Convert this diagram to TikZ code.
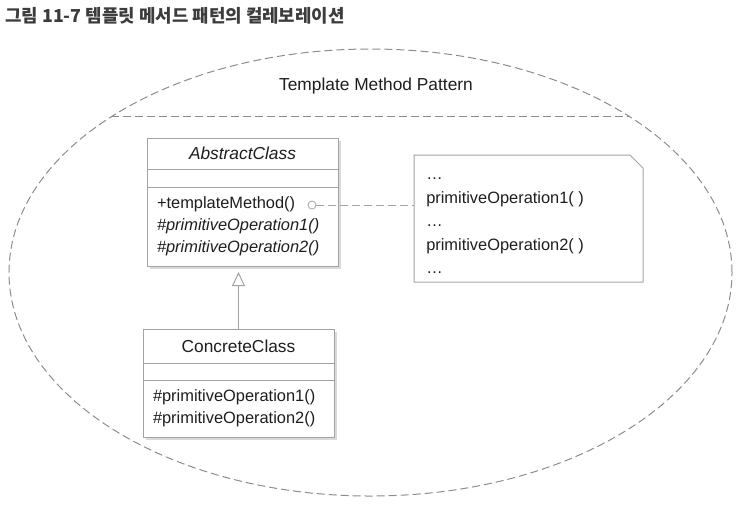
\documentclass[tikz,border=0pt]{standalone}
\usepackage{fontspec}
\setmainfont{Liberation Sans}
\newfontfamily\krfont{Noto Sans CJK KR}
\usetikzlibrary{arrows.meta,positioning,shadows,shapes.geometric,calc}
\newlength\pxu
\setlength\pxu{0.75pt}
\definecolor{umlline}{HTML}{A3A3A3}
\definecolor{umlshadow}{HTML}{DADADA}
\definecolor{dashgray}{HTML}{8C8C8C}
\definecolor{inktext}{HTML}{1E1E1E}
\definecolor{titlegray}{HTML}{3C3C3C}

\begin{document}
\begin{tikzpicture}[x=\pxu,y=-\pxu,>={Triangle[open,length=10.5pt,width=9.75pt]},every node/.append style={text=inktext},
  part/.style={rectangle, draw=umlline, fill=white, line width=0.75pt, minimum width=191\pxu, inner sep=0pt, outer sep=0pt, drop shadow={shadow xshift=2.25pt, shadow yshift=-2.25pt, draw=none, fill=umlshadow, opacity=1}},
  opspart/.style={part, text width=171\pxu, align=left, font=\fontsize{12.3}{16.5}\selectfont},
  notebox/.style={rectangle, minimum width=229\pxu, minimum height=127\pxu, inner sep=0pt, outer sep=0pt},
  umlpath/.style={draw=umlline, line width=0.75pt},
  dashline/.style={draw=dashgray, line width=0.75pt, dash pattern=on 6pt off 3pt}]
    \useasboundingbox (0,0) rectangle (755,512);
    \node [anchor=west, inner sep=0pt, text=titlegray, font=\krfont\bfseries\fontsize{13.4}{15}\selectfont] (figTitle) at (5,16) {그림 11-7 템플릿 메서드 패턴의 컬레보레이션};
    % collaboration
    \node [ellipse, dashline, minimum width=723\pxu, minimum height=447\pxu, inner sep=0pt, outer sep=0pt] (collab) at (370.5,272.5) {};
    \coordinate (chordL) at (collab.149.1);
    \coordinate (chordR) at ($(chordL)!2!(chordL -| collab.center)$);
    \draw [dashline] (chordL) -- (chordR);
    \node [font=\fontsize{13}{15}\selectfont] (patternName) at (376,86) {Template Method Pattern};
    % abstract class
    \node [part, minimum height=31\pxu, font=\fontsize{13}{15}\selectfont\itshape] (absName) at (242.5,153.5) {AbstractClass};
    \node [part, minimum height=18\pxu, below=0pt of absName] (absAttr) {};
    \node [opspart, minimum height=79\pxu, below=0pt of absAttr] (absOps) {+templateMethod()\\\textit{\#primitiveOperation1()}\\\textit{\#primitiveOperation2()}};
    % concrete class
    \node [part, minimum height=34\pxu, font=\fontsize{13}{15}\selectfont] (concName) at (238.5,346) {ConcreteClass};
    \node [part, minimum height=17\pxu, below=0pt of concName] (concAttr) {};
    \node [opspart, minimum height=57\pxu, below=0pt of concAttr] (concOps) {\#primitiveOperation1()\\\#primitiveOperation2()};
    \draw [umlpath, ->, shorten >=4.5pt] (concName.north) -- (concName.north |- absOps.south);
    % note
    \node [notebox] (note) at (528.5,218.5) {};
    \draw [umlpath] (note.north west) -- ([xshift=-13\pxu]note.north east) -- ([yshift=-13\pxu]note.north east) -- (note.south east) -- (note.south west) -- cycle;
    \node [anchor=west, align=left, inner sep=0pt, font=\fontsize{12.3}{17.6}\selectfont] (noteText) at (426,226) {…\\primitiveOperation1( )\\…\\primitiveOperation2( )\\…};
    \node [circle, draw=umlline, line width=0.6pt, fill=white, minimum size=8\pxu, inner sep=0pt] (hook) at (312,205) {};
    \draw [umlpath, line width=0.6pt, dash pattern=on 6pt off 3pt] (hook.east) -- (hook -| note.west);
\end{tikzpicture}
\end{document}
